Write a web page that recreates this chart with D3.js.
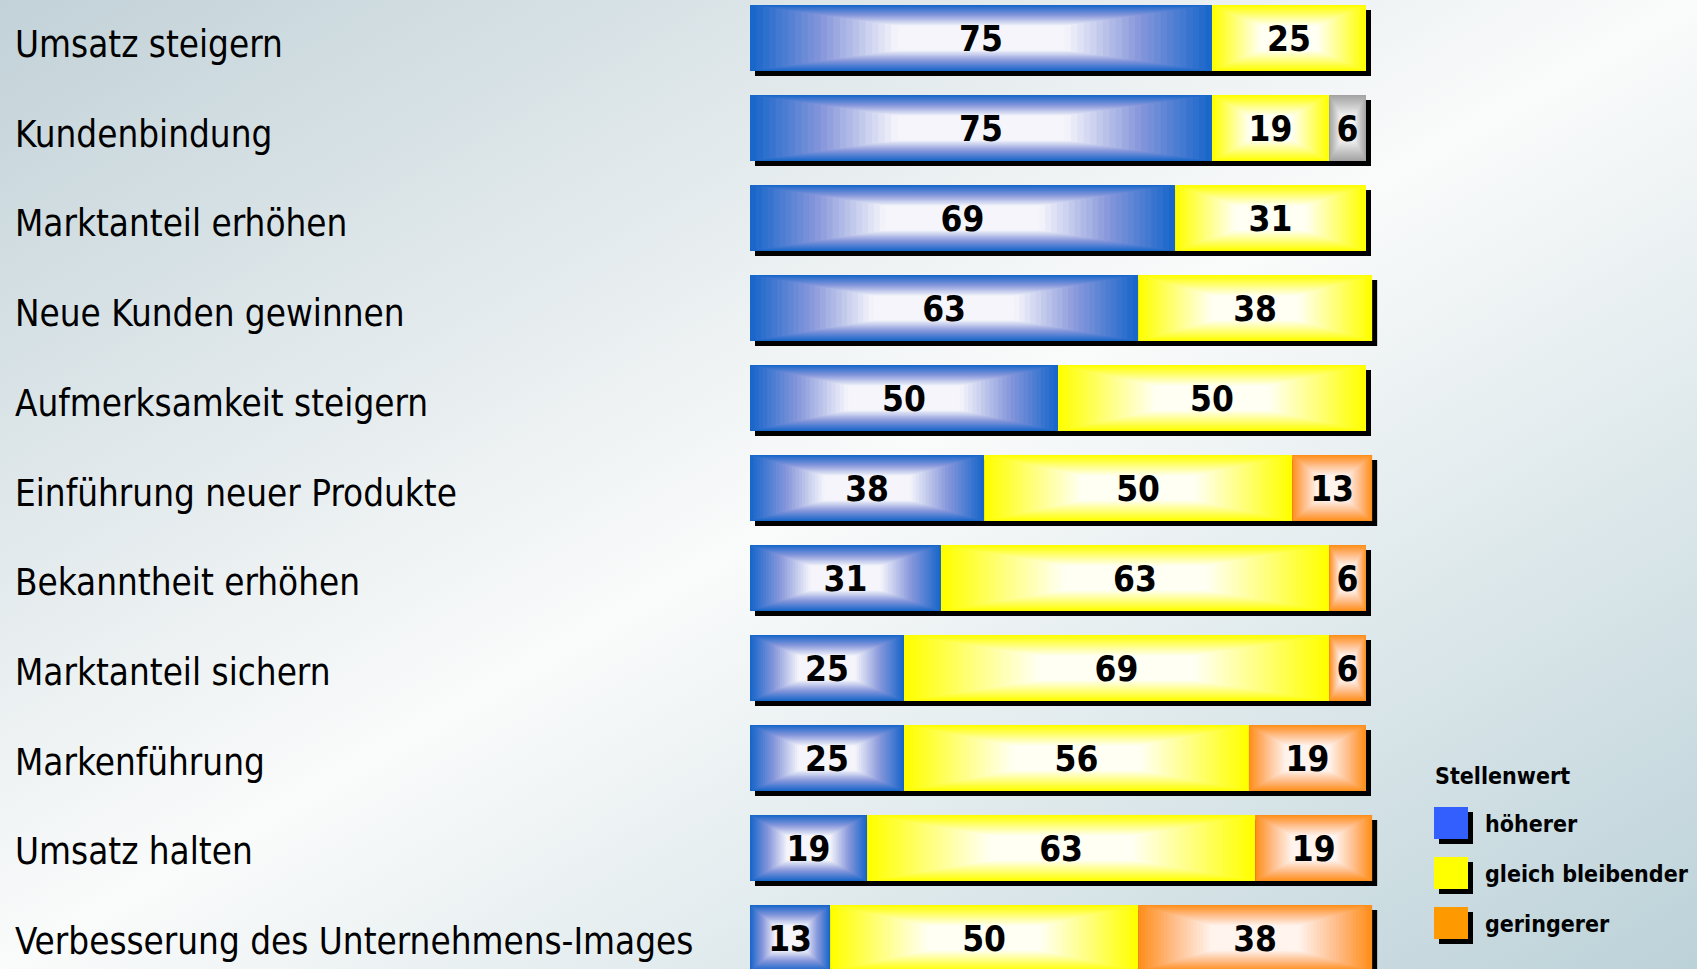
<!DOCTYPE html>
<html>
<head>
<meta charset="utf-8">
<script src="https://cdn.jsdelivr.net/npm/d3@7"></script>
<style>
  html, body { margin: 0; padding: 0; overflow: hidden; }
  svg { display: block; }
</style>
</head>
<body>
<svg></svg>
<script>
//canvas size
const width = 1697;
const height = 969;

//data
var categories = ['Umsatz steigern', 'Kundenbindung', 'Marktanteil erhöhen', 'Neue Kunden gewinnen',
                  'Aufmerksamkeit steigern', 'Einführung neuer Produkte', 'Bekanntheit erhöhen',
                  'Marktanteil sichern', 'Markenführung', 'Umsatz halten',
                  'Verbesserung des Unternehmens-Images'];
var hoeher   = [75, 75, 69, 63, 50, 38, 31, 25, 25, 19, 13];
var gleich   = [25, 19, 31, 38, 50, 50, 63, 69, 56, 63, 50];
var geringer = [0, 0, 0, 0, 0, 13, 6, 6, 19, 19, 38];
var keine    = [0, 6, 0, 0, 0, 0, 0, 0, 0, 0, 0]; //grey piece, not in legend

var legendTitle = 'Stellenwert';
var legendLabels = ['höherer', 'gleich bleibender', 'geringerer'];

//colours: edge, middle, centre of the box gradient
var ramps = {
    hoeher:   ['#1a67cb', '#8797db', '#f5f5fb'],
    gleich:   ['#ffff00', '#ffff7a', '#fffff3'],
    geringer: ['#ff8f1c', '#ffbe8c', '#fff4ee'],
    keine:    ['#a3a3a3', '#c9c9c9', '#f1f1f1']
};
var legendColours = ['#335fff', '#ffff00', '#ff9900'];

var labelFont = "'DejaVu Sans Condensed', 'DejaVu Sans', sans-serif";

//table for d3.stack
var keys = ['hoeher', 'gleich', 'geringer', 'keine'];
var rows = categories.map(function(c, i) {
    return {cat: c, hoeher: hoeher[i], gleich: gleich[i], geringer: geringer[i], keine: keine[i]};
});

var svg = d3.select('svg').attr('width', width).attr('height', height);
var defs = svg.append('defs');

//background gradient
var bg = defs.append('linearGradient').attr('id', 'bg')
    .attr('x1', 0).attr('y1', 0).attr('x2', 1).attr('y2', 1);
bg.append('stop').attr('offset', 0).attr('stop-color', '#c2d2d8');
bg.append('stop').attr('offset', 0.5).attr('stop-color', '#fafbfb');
bg.append('stop').attr('offset', 1).attr('stop-color', '#bcd2d9');
svg.append('rect').attr('width', width).attr('height', height).attr('fill', 'url(#bg)');

//scales
var x = d3.scaleLinear().domain([0, 100]).range([750, 1366]);
var y = d3.scaleBand().domain(categories).range([5, 971]).paddingInner(24 / 90).paddingOuter(0);

var stacked = d3.stack().keys(keys)(rows);

//category labels
svg.append('g').selectAll('text')
   .data(categories)
   .join('text')
   .attr('x', 15)
   .attr('y', function(d, i) { return y(d) + 52 - i * 0.3; })
   .attr('font-family', labelFont)
   .attr('font-size', 36.5)
   .attr('fill', '#000')
   .text(function(d) { return d; });

//shadows behind each bar
var shadowOff = 5;
svg.append('g').selectAll('rect')
   .data(rows)
   .join('rect')
   .attr('x', x(0) + shadowOff)
   .attr('y', function(d) { return y(d.cat) + shadowOff; })
   .attr('width', function(d) { return x(d.hoeher + d.gleich + d.geringer + d.keine) - x(0); })
   .attr('height', y.bandwidth())
   .attr('fill', '#000');

//segments, drawn as nested rects to mimic the stepped box gradient
var steps = 36;
var bars = svg.append('g');
stacked.forEach(function(layer) {
    var ramp = d3.scaleLinear().domain([0, 0.3, 0.62, 1]).range(ramps[layer.key].concat([ramps[layer.key][2]]));
    layer.forEach(function(seg, i) {
        var v = seg[1] - seg[0];
        if (v <= 0) return;
        var x0 = x(seg[0]), w = x(seg[1]) - x(seg[0]);
        var y0 = y(categories[i]), h = y.bandwidth();
        var g = bars.append('g');
        d3.range(steps).forEach(function(k) {
            var t = k / steps;
            g.append('rect')
             .attr('x', x0 + t * w / 2)
             .attr('y', y0 + t * h / 2)
             .attr('width', w * (1 - t))
             .attr('height', h * (1 - t))
             .attr('fill', ramp(t));
        });
        //value
        g.append('text')
         .attr('x', x0 + w / 2)
         .attr('y', y0 + h / 2 + 13)
         .attr('text-anchor', 'middle')
         .attr('font-family', labelFont)
         .attr('font-weight', 'bold')
         .attr('font-size', 35)
         .attr('fill', '#000')
         .text(v);
    });
});

//legend
var legend = svg.append('g');
legend.append('text')
      .attr('x', 1435)
      .attr('y', 784)
      .attr('font-family', labelFont)
      .attr('font-weight', 'bold')
      .attr('font-size', 23)
      .text(legendTitle);

var ly = d3.scalePoint().domain(legendLabels).range([807, 907]);
legendLabels.forEach(function(l, i) {
    legend.append('rect')
          .attr('x', 1434 + 5).attr('y', ly(l) + 5)
          .attr('width', 34).attr('height', 32)
          .attr('fill', '#000');
    legend.append('rect')
          .attr('x', 1434).attr('y', ly(l))
          .attr('width', 34).attr('height', 32)
          .attr('fill', legendColours[i]);
    legend.append('text')
          .attr('x', 1485)
          .attr('y', ly(l) + 25)
          .attr('font-family', labelFont)
          .attr('font-weight', 'bold')
          .attr('font-size', 23)
          .text(l);
});
</script>
</body>
</html>
